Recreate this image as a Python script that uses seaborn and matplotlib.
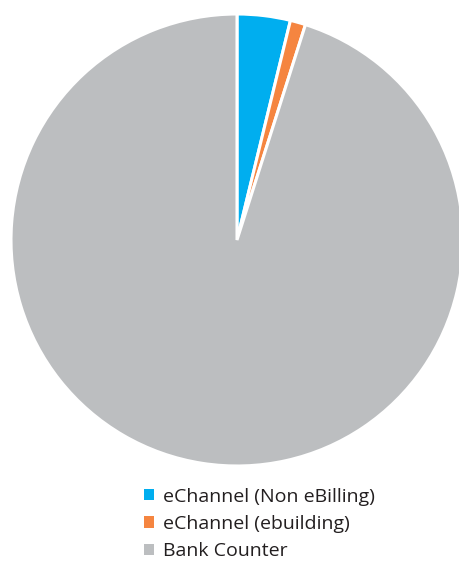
import matplotlib
matplotlib.use("Agg")
import matplotlib.pyplot as plt
from matplotlib.patches import Patch
import seaborn as sns

# channel shares (percent)
labels = ["eChannel (Non eBilling)", "eChannel (ebuilding)", "Bank Counter"]
shares = [3.8, 1.1, 95.1]
colors = ["#00AEEF", "#F58540", "#BCBEC0"]

sns.set_theme(style="white")
plt.rcParams["font.family"] = ["Open Sans", "DejaVu Sans"]

W, H = 459, 565
fig = plt.figure(figsize=(W / 100, H / 100), dpi=100)

# pie centred at (237, 240) px, radius 226 px
cx, cy, r = 237, 240, 226
ax = fig.add_axes([(cx - r) / W, (H - cy - r) / H, 2 * r / W, 2 * r / H])
ax.pie(shares, colors=colors, startangle=90, counterclock=False,
       wedgeprops=dict(edgecolor="white", linewidth=2.2))
ax.set_xlim(-1, 1)
ax.set_ylim(-1, 1)
ax.set_aspect("equal")
ax.axis("off")

handles = [Patch(facecolor=c, edgecolor="none") for c in colors]
fig.legend(handles, labels, loc="upper left",
           bbox_to_anchor=(134 / W, 1 - 478 / H), frameon=False,
           fontsize=14, handlelength=0.52, handleheight=0.52,
           handletextpad=0.45, labelspacing=0.48, borderpad=0,
           labelcolor="#231F20")

fig.savefig("out.png", dpi=100)
